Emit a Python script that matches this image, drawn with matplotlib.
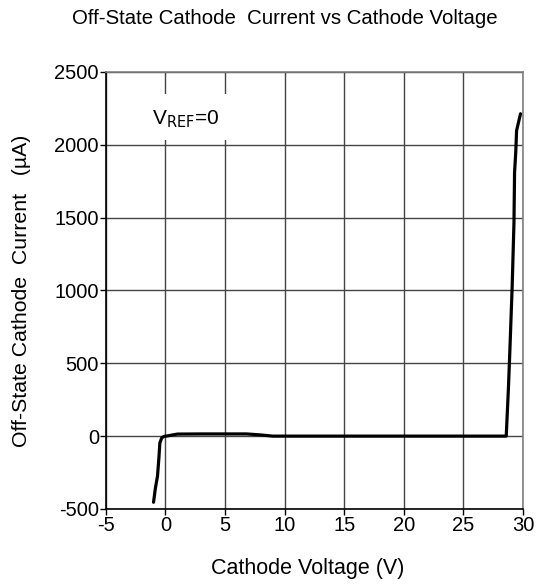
import numpy as np
import matplotlib.pyplot as plt
from matplotlib.patches import Rectangle

plt.rcParams['font.family'] = ['Liberation Sans', 'DejaVu Sans']
plt.rcParams['axes.unicode_minus'] = False

# curve (V, uA)
voltage = [-1.0, -0.85, -0.67, -0.55, -0.47, -0.3, -0.1, 0.2, 1.0, 3.0, 5.0, 6.8, 8.0, 9.0,
           12.0, 16.0, 20.0, 24.0, 28.0, 28.6, 28.78, 28.9, 29.1, 29.25, 29.3, 29.4, 29.47, 29.8]
current = [-454, -360, -275, -150, -46, -10, -2, 2, 14, 15, 15, 15, 8, 0,
           0, 0, 0, 0, 0, 0, 321, 575, 1031, 1467, 1811, 1950, 2098, 2213]

xticks = [-5, 0, 5, 10, 15, 20, 25, 30]
yticks = [-500, 0, 500, 1000, 1500, 2000, 2500]

fig = plt.figure(figsize=(5.43, 5.85), dpi=100)
ax = fig.add_axes([0.195, 0.13, 0.768, 0.747])

ax.plot(voltage, current, color='black', lw=2.3, solid_capstyle='round', solid_joinstyle='round', zorder=3)

ax.set_xlim(-5, 30)
ax.set_ylim(-500, 2500)
ax.set_xticks(xticks)
ax.set_yticks(yticks)
ax.tick_params(labelsize=14.5, length=4, width=1, color='black', pad=1)
ax.grid(True, color='#444444', lw=1)
ax.set_axisbelow(True)

for side in ['left', 'bottom']:
    ax.spines[side].set_color('black')
    ax.spines[side].set_linewidth(1.2)
for side in ['top', 'right']:
    ax.spines[side].set_color('#808080')
    ax.spines[side].set_linewidth(1.2)

# white label box that breaks the grid lines
ax.add_patch(Rectangle((0.07, 0.845), 0.25, 0.105, transform=ax.transAxes,
                       facecolor='white', edgecolor='none', zorder=1.5))
ax.text(0.110, 0.879, r'V$_{\mathrm{REF}}$=0', transform=ax.transAxes, fontsize=15,
        va='baseline', ha='left', zorder=2)

fig.text(0.524, 0.969, 'Off-State Cathode  Current vs Cathode Voltage', ha='center', va='center', fontsize=14.7)
fig.text(0.567, 0.029, 'Cathode Voltage (V)', ha='center', va='center', fontsize=15.5)
fig.text(0.04, 0.503, 'Off-State Cathode  Current   (\u00b5A)', ha='center', va='center', rotation=90, fontsize=15.3)

fig.savefig('out.png', dpi=100)
